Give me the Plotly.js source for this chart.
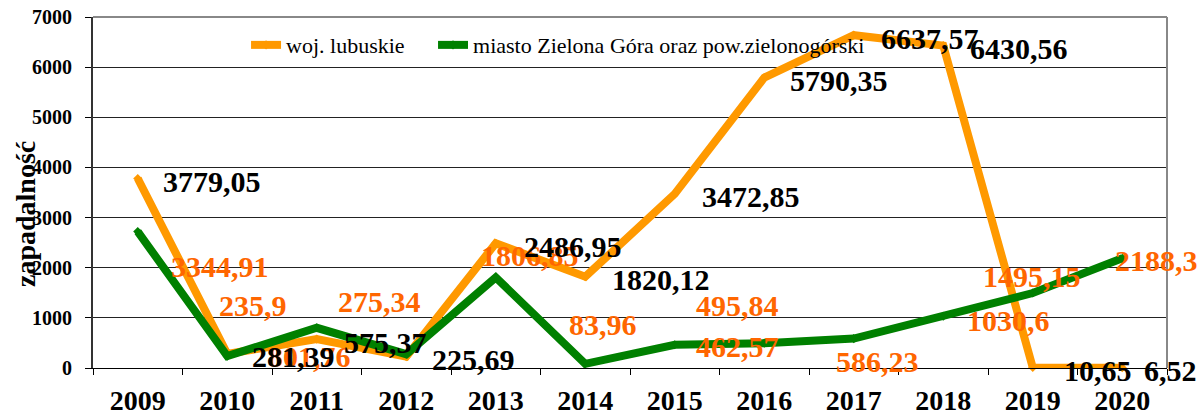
<!DOCTYPE html>
<html><head><meta charset="utf-8">
<script src="https://cdn.plot.ly/plotly-3.0.1.min.js"></script>
<style>html,body{margin:0;padding:0;background:#fff}#chart{width:1200px;height:417px}</style>
</head><body><div id="chart"></div>
<script>
const years = ['2009','2010','2011','2012','2013','2014','2015','2016','2017','2018','2019','2020'];
const seriesNames = ['woj. lubuskie', 'miasto Zielona Góra oraz pow.zielonogórski'];
const lubuskie = [3779.05, 281.39, 575.37, 225.69, 2486.95, 1820.12, 3472.85, 5790.35, 6637.57, 6430.56, 10.65, 6.52];
const lubuskieLabels = ['3779,05','281,39','575,37','225,69','2486,95','1820,12','3472,85','5790,35','6637,57','6430,56','10,65','6,52'];
const zielona = [2720, 235.9, 801.76, 275.34, 1806.85, 83.96, 462.57, 495.84, 586.23, 1030.6, 1495.15, 2188.3];
const zielonaLabels = ['3344,91','235,9','801,76','275,34','1806,85','83,96','462,57','495,84','586,23','1030,6','1495,15','2188,3'];
const yTicks = [0, 1000, 2000, 3000, 4000, 5000, 6000, 7000];
const yTitle = 'zapadalność';

// label placement (style only)
const lubShiftX = [23, 22.5, 25, 23.5, 26, 24.5, 25, 23.5, 25, 24.5, 29, 19.5];
const zielShiftX = [82, 25.5, -7, -26.5, 34, 17.5, 63, -26.5, 24, 65.5, -1, 34.5];
const zielShiftY = [-35, 51, -29, 53, 22, 39, -2, 38, -23, -4.5, 17, -2];

const FONT = "'Liberation Serif', 'Times New Roman', serif";
const ORANGE = '#FF9900', GREEN = '#008000', LABEL_ORANGE = '#FF6600';

const traces = [
  {x: years, y: lubuskie, name: seriesNames[0], type: 'scatter', mode: 'lines+markers', legend: 'legend',
   line: {color: ORANGE, width: 8}, marker: {symbol: 'diamond', size: 7, color: ORANGE}, cliponaxis: false},
  {x: years, y: zielona, name: seriesNames[1], type: 'scatter', mode: 'lines+markers', legend: 'legend2',
   line: {color: GREEN, width: 8}, marker: {symbol: 'diamond', size: 7, color: GREEN}, cliponaxis: false}
];

const annotations = [];
years.forEach((yr, i) => {
  annotations.push({x: i, y: zielona[i], xref: 'x', yref: 'y', text: zielonaLabels[i], showarrow: false,
    xanchor: 'center', yanchor: 'middle', xshift: zielShiftX[i], yshift: zielShiftY[i],
    font: {family: FONT, size: 30, color: LABEL_ORANGE, weight: 'bold'}});
});
years.forEach((yr, i) => {
  annotations.push({x: i, y: lubuskie[i], xref: 'x', yref: 'y', text: lubuskieLabels[i], showarrow: false,
    xanchor: 'left', yanchor: 'middle', xshift: lubShiftX[i], yshift: -3,
    font: {family: FONT, size: 30, color: '#000', weight: 'bold'}});
});
annotations.push({xref: 'paper', yref: 'paper', x: -0.0633, y: 0.4387, text: yTitle, textangle: -90,
  showarrow: false, xanchor: 'center', yanchor: 'middle',
  font: {family: FONT, size: 28, color: '#000', weight: 'bold'}});

const legendBase = {orientation: 'h', xanchor: 'left', y: 0.92, yanchor: 'middle',
  bgcolor: 'rgba(0,0,0,0)', font: {family: FONT, size: 22, color: '#000'}, tracegroupgap: 0};

const layout = {
  width: 1200, height: 417,
  margin: {l: 93, r: 33, t: 17, b: 49, pad: 0},
  paper_bgcolor: '#fff', plot_bgcolor: '#fff',
  font: {family: FONT, color: '#000'},
  showlegend: true,
  legend: Object.assign({}, legendBase, {x: 0.1425}),
  legend2: Object.assign({}, legendBase, {x: 0.3166}),
  xaxis: {type: 'category', range: [-0.5, years.length - 0.5], autorange: false,
    tickson: 'boundaries', ticks: 'outside', ticklen: 6, tickcolor: '#000',
    showline: true, linecolor: '#000', linewidth: 1, showgrid: false, zeroline: false,
    tickfont: {family: FONT, size: 28, color: '#000', weight: 'bold'}, ticklabelstandoff: 7,
    tickangle: 0, fixedrange: true},
  yaxis: {range: [0, 7000], autorange: false, tickvals: yTicks, ticktext: yTicks.map(String), ticks: 'outside', ticklen: 6,
    tickcolor: '#000', showline: true, linecolor: '#333', linewidth: 2, showgrid: true, gridcolor: '#222',
    gridwidth: 1, zeroline: false, tickfont: {family: FONT, size: 20, color: '#000', weight: 'bold'},
    ticklabelstandoff: 9, fixedrange: true},
  shapes: [
    {type: 'line', xref: 'paper', yref: 'paper', x0: 0, x1: 1, y0: 1, y1: 1, line: {color: '#888', width: 2}, layer: 'above'},
    {type: 'line', xref: 'paper', yref: 'paper', x0: 1, x1: 1, y0: 0, y1: 1, line: {color: '#888', width: 2}, layer: 'above'}
  ],
  annotations: annotations
};

Plotly.newPlot('chart', traces, layout, {displayModeBar: false, staticPlot: true});
</script>
</body></html>
